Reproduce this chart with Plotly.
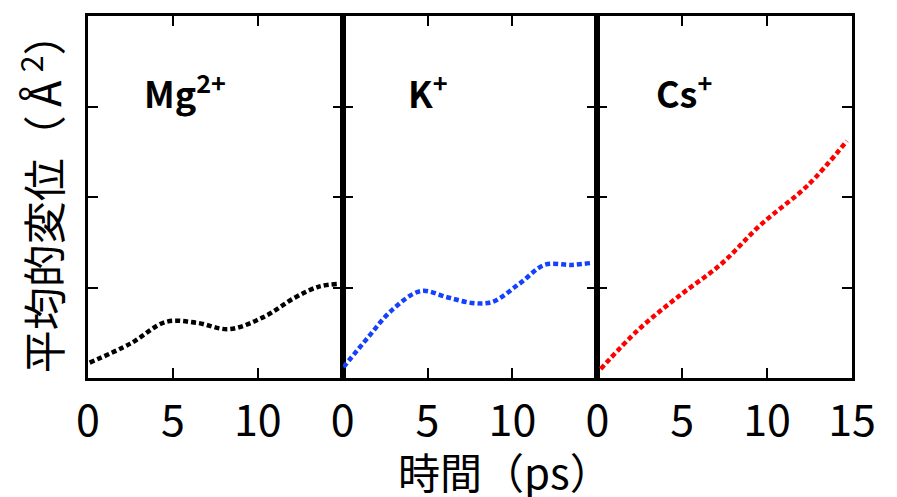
import plotly.graph_objects as go
from plotly.subplots import make_subplots

# Data
mg_t = [0.1, 2.5, 4.6, 6.4, 8.3, 10.3, 12.2, 13.6, 14.7]
mg_y = [0.17, 0.38, 0.62, 0.61, 0.54, 0.67, 0.89, 1.01, 1.04]
k_t = [0.05, 1.5, 2.9, 4.6, 6.2, 7.6, 8.8, 10.4, 11.9, 13.5, 14.6]
k_y = [0.12, 0.45, 0.75, 0.96, 0.89, 0.83, 0.84, 1.04, 1.25, 1.25, 1.27]
cs_t = [0.2, 2.4, 4.7, 7.3, 9.6, 12.4, 14.7]
cs_y = [0.1, 0.53, 0.89, 1.26, 1.69, 2.13, 2.62]

series = [
    ("Mg<sup>2+</sup>", mg_t, mg_y, "#000000"),
    ("K<sup>+</sup>", k_t, k_y, "#1440ff"),
    ("Cs<sup>+</sup>", cs_t, cs_y, "#ff0000"),
]
tick_vals = [0, 5, 10, 15]
tick_text_inner = ["0", "5", "10", ""]
tick_text_last = ["0", "5", "10", "15"]
y_title = "平均的変位（\u212b<sup>2</sup>）"
x_title = "時間（ps）"

FONT = "Noto Sans CJK JP"

fig = make_subplots(rows=1, cols=3, shared_yaxes=True, horizontal_spacing=0)

for i, (name, t, y, c) in enumerate(series, start=1):
    fig.add_trace(go.Scatter(x=t, y=y, mode="lines",
                             line=dict(color=c, width=4.5, dash="5px,3px", shape="spline"),
                             showlegend=False), row=1, col=i)
    fig.update_xaxes(range=[0, 15], tickvals=tick_vals,
                     ticktext=tick_text_last if i == 3 else tick_text_inner,
                     ticks="inside", ticklen=10, tickwidth=2, tickcolor="black",
                     showline=True, linewidth=3, linecolor="black", mirror="ticks",
                     showgrid=False, zeroline=False, ticklabelstandoff=3,
                     tickfont=dict(family=FONT, size=43, color="black"), row=1, col=i)
    fig.update_yaxes(range=[0, 4], tickvals=[1, 2, 3], showticklabels=False,
                     ticks="inside", ticklen=10, tickwidth=2, tickcolor="black",
                     showline=True, linewidth=3, linecolor="black", mirror="ticks",
                     showgrid=False, zeroline=False, row=1, col=i)
    xref = "x" if i == 1 else f"x{i}"
    fig.add_annotation(x=[5.7, 5.0, 5.1][i - 1], y=3.17, xref=xref, yref="y", text=name,
                       showarrow=False, xanchor="center", yanchor="middle",
                       font=dict(family=FONT, size=36, color="black", weight="bold"))

fig.add_annotation(x=-0.062, y=0.512, xref="paper", yref="paper", text=y_title, textangle=-90,
                   showarrow=False, xanchor="center", yanchor="middle",
                   font=dict(family=FONT, size=43, color="black"))
fig.add_annotation(x=0.546, y=-0.255, xref="paper", yref="paper", text=x_title,
                   showarrow=False, xanchor="center", yanchor="middle",
                   font=dict(family=FONT, size=42, color="black"))

fig.update_layout(width=897, height=497, margin=dict(l=80, r=53, t=5, b=127),
                  plot_bgcolor="white", paper_bgcolor="white")

fig.write_html("out.html")
